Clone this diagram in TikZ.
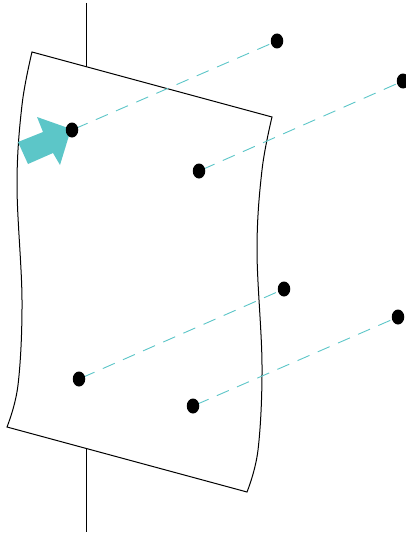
\documentclass[tikz,border=0pt]{standalone}
\usetikzlibrary{shapes.geometric}
\definecolor{tealc}{RGB}{92,198,200}
\begin{document}
\begin{tikzpicture}[x=1pt,y=-1pt,
  dot/.style={ellipse,fill=black,inner sep=0pt,minimum width=12.5pt,minimum height=15pt},
  link/.style={draw=tealc,line width=0.9pt,dash pattern=on 13pt off 9pt,dash phase=-4pt},
  edgeline/.style={line width=1pt,black}]
\useasboundingbox (0,0) rectangle (406,535);
\coordinate (pt) at (86,3);
\coordinate (pb) at (86,532);
\draw[edgeline] (pt) -- (pb);
\draw[edgeline,fill=white,line join=miter]
  plot[smooth,tension=0.6] coordinates {(32,52)(22,105)(17,185)(22,300)(18,385)(7,427)}
  -- plot[smooth,tension=0.6] coordinates {(247,492)(258,450)(262,365)(257,250)(262,170)(272,117)}
  -- cycle;
\fill[tealc] (18,142) -- (43,132) -- (37,117) -- (71,129) -- (60,165) -- (53,153) -- (28,164) -- cycle;
\coordinate (a1) at (72,130);
\coordinate (a2) at (199,171);
\coordinate (a3) at (79,379);
\coordinate (a4) at (193,406);
\coordinate (b1) at (277,41);
\coordinate (b2) at (403,81);
\coordinate (b3) at (284,289);
\coordinate (b4) at (398,317);
\draw[link] (a1) -- (b1);
\draw[link] (a2) -- (b2);
\draw[link] (a3) -- (b3);
\draw[link] (a4) -- (b4);
\foreach \p in {a1,a2,a3,a4,b1,b2,b3,b4} \node[dot] (d\p) at (\p) {};
\end{tikzpicture}
\end{document}
